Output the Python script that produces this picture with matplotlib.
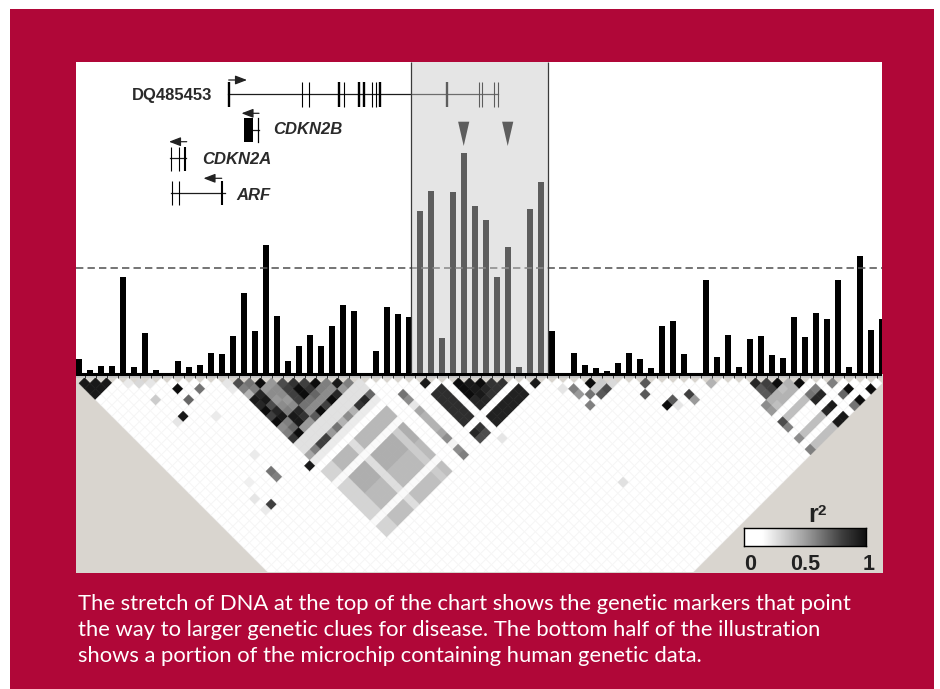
import numpy as np
import matplotlib.pyplot as plt
from matplotlib.collections import PolyCollection
from matplotlib.colors import LinearSegmentedColormap
from matplotlib.patches import Rectangle

plt.rcParams['font.family'] = ['Liberation Sans', 'DejaVu Sans']

# bar heights for the 74 markers, top panel
bar_heights = [15, 4, 8, 8, 96.5, 7, 41, 3.5, 0, 13, 7, 9, 20.5, 19.5, 38, 80.5, 43, 128.5,
               58, 13, 28, 39, 28, 48, 68.5, 63, 0, 23, 66.5, 60, 57, 163, 183, 35.5, 182,
               220.5, 168, 154, 96.5, 126.5, 7, 165, 191.5, 43, 0, 21, 9, 6, 2.5, 11, 21, 15,
               6, 47.5, 53, 19.5, 0, 94, 16.5, 39, 7, 34.5, 38, 18.5, 15.5, 57, 37, 61, 55,
               94, 7, 118, 44, 55]
threshold = 106

# r2 triangles, one list per distance between markers (first marker, values)
block_b = (14, [[.7, .55, .95, .4, .7, .8, .75, .95, .5, .9, .5],
                [.5, .5, .4, .45, .75, .95, .8, .5, .45, .4],
                [.3, .85, .45, .45, .75, .95, .6, .45, .85],
                [.9, .9, .4, .4, .75, .55, .45, .95],
                [.85, .7, .45, .45, .55, .45, .75],
                [.95, .85, .5, .85, .45, .95],
                [.75, .9, .9, .8, .65],
                [.95, .5, .9, .4],
                [.45, .6, .4],
                [.5, .95],
                [.8]])
block_g = (34, [[.95, .9, .95, .8, .8],
                [.95, .9, .85, .8],
                [.95, .9, .8],
                [.85, .85],
                [.85]])

# r2 rectangles: i_from, i_to, j_from, j_to, value
ld_blocks = [(0, 2, 1, 3, .9),
             (14, 25, 26, 27, .12), (14, 25, 29, 29, .08),
             (14, 25, 31, 32, .28), (14, 25, 34, 36, .32), (14, 25, 37, 39, .27), (14, 25, 41, 42, .25),
             (14, 15, 31, 42, .17), (19, 19, 31, 42, .13), (24, 24, 34, 42, .2),
             (14, 25, 33, 33, .02), (14, 25, 40, 40, .02),
             (31, 32, 34, 39, .82), (34, 39, 41, 42, .87),
             (61, 64, 68, 68, .25), (61, 64, 71, 71, .25), (61, 64, 73, 73, .25)]

# single r2 cells: i, j, value
ld_cells = [(8, 10, .95), (10, 12, .55), (8, 12, .6), (5, 9, .2), (6, 13, .9), (5, 13, .1),
            (4, 5, .08), (5, 6, .15), (6, 7, .1), (13, 14, .1), (13, 15, .08), (9, 16, .08),
            (9, 23, .08), (6, 25, .06), (5, 27, .1), (9, 26, .55), (9, 27, .5), (6, 29, .75), (5, 29, .08),
            (13, 29, .9), (14, 28, .35), (15, 28, .5), (16, 28, .75), (17, 28, .75), (18, 28, .4),
            (19, 28, .55), (20, 28, .3), (21, 28, .45), (22, 28, .3), (23, 28, .8), (24, 28, .85), (25, 28, .6),
            (28, 31, .55), (28, 32, .45), (28, 33, .1), (28, 34, .35), (28, 35, .3), (28, 36, .3), (28, 37, .3),
            (28, 38, .35), (28, 39, .45), (28, 40, .05), (28, 41, .45), (28, 42, .5),
            (31, 32, .9), (41, 42, .9), (32, 41, .8), (31, 41, .85), (32, 42, .7), (31, 42, .7), (33, 44, .1),
            (46, 47, .95), (44, 46, .5), (44, 47, .4), (45, 48, .55), (44, 49, .5), (46, 49, .65), (47, 49, .7),
            (46, 48, .2), (47, 48, .2), (48, 49, .15), (43, 45, .1), (51, 52, .65), (50, 53, .65),
            (54, 57, .75), (54, 58, .4), (51, 56, .95), (52, 56, .65), (52, 57, .1), (57, 58, .3),
            (61, 62, .85), (62, 63, .75), (63, 64, .95), (65, 66, .95), (61, 63, .65), (62, 64, .75), (61, 64, .65),
            (63, 65, .25), (64, 65, .3), (62, 65, .3), (63, 66, .3), (62, 66, .3), (61, 65, .3), (61, 66, .25),
            (64, 66, .3), (60, 65, .45), (60, 66, .4), (60, 68, .7), (60, 69, .5), (66, 68, .5), (65, 68, .55),
            (66, 69, .85), (65, 69, .85), (68, 69, .5), (68, 71, .6), (69, 71, .95), (71, 73, .95), (69, 73, .95),
            (68, 73, .55), (66, 71, .9), (65, 71, .85), (60, 71, .45), (66, 73, .9), (65, 73, .9), (60, 73, .5),
            (40, 59, .12)]

# gene models, in picture coordinates of the overlay axes
main_exons = [228.7, 301.7, 309.3, 339.3, 344, 359.3, 364.3, 371.7, 376, 380, 446.7, 478.7, 482, 494, 497.7]
main_thick = [228.7, 339.3, 359.3, 364.3, 380, 446.7]
cdkn2a_exons = [170.7, 178.5, 185]
arf_exons = [171.7, 179, 222]
arrow_marks = [463.7, 507.7]
caption = ['The stretch of DNA at the top of the chart shows the genetic markers that point',
           'the way to larger genetic clues for disease. The bottom half of the illustration',
           'shows a portion of the microchip containing human genetic data.']

n = len(bar_heights)
r2 = np.zeros((n, n))
for i0, i1, j0, j1, v in ld_blocks:
    for i in range(i0, i1 + 1):
        for j in range(j0, j1 + 1):
            if i < j:
                r2[i, j] = v
for first, rows in (block_b, block_g):
    for d, row in enumerate(rows, start=1):
        for k, v in enumerate(row):
            r2[first + k, first + k + d] = v
for i, j, v in ld_cells:
    r2[i, j] = v

fig = plt.figure(figsize=(9.4, 6.89), dpi=100, facecolor='white')
fig.patches.append(Rectangle((10 / 940, 0), 924 / 940, 680 / 689, transform=fig.transFigure,
                             facecolor='#b00738', edgecolor='none', zorder=-1))

# main panel: x in marker number, y is 1 unit per pixel from the baseline
ax = fig.add_axes([76 / 940, 1 - 572 / 689, 806 / 940, 510 / 689])
ax.set_xlim(-3 / 11, 73)
ax.set_ylim(-198.5, 311.5)
ax.axis('off')
ax.add_patch(Rectangle((0, 0), 1, 1, transform=ax.transAxes, facecolor='white', zorder=0))
ax.bar(range(n), bar_heights, width=0.56, color='black', zorder=3)
ax.axhline(threshold, color='#555555', lw=1.15, dashes=(4.6, 2.6), zorder=4)

# LD triangle, drawn as diamonds under the bars
polys, vals = [], []
for i in range(n):
    for j in range(i + 1, n):
        d = j - i
        cx = (i + j) / 2
        cy = -(4.3 + 5.5 * d)
        if cy < -206:
            continue
        polys.append([(cx - .5, cy), (cx, cy + 5.5), (cx + .5, cy), (cx, cy - 5.5)])
        vals.append(r2[i, j])
vals = np.array(vals)
faces = plt.cm.gray_r(vals)
edges = faces.copy()
edges[vals < .05] = (.965, .965, .965, 1)
ax.fill_between([-1, 74], -199, 0, color='#d9d5cf', lw=0, zorder=1)
ax.add_collection(PolyCollection(polys, facecolors=faces, edgecolors=edges, linewidths=0.35, zorder=2))
ax.axhspan(-4.5, -2, color='#c8c8c8', lw=0, zorder=3)
ax.axhline(-0.5, color='black', lw=2.2, zorder=5)
ax.vlines(np.arange(n) + .5, -4.5, -1, color='#333333', lw=0.7, zorder=4)

# overlay in picture coordinates for the gene track and text
top = fig.add_axes([0, 0, 1, 1], zorder=5)
top.set_xlim(0, 940)
top.set_ylim(689, 0)
top.axis('off')
top.patch.set_alpha(0)

dark = '#1c1c1c'
top.plot([228, 498], [94.3, 94.3], color=dark, lw=0.9)
for x in main_exons:
    top.plot([x, x], [82.3, 106.7], color='black', lw=1.7 if x in main_thick else 0.8, solid_capstyle='butt')
top.plot([258.5, 253], [130, 130], color=dark, lw=0.9)
top.add_patch(Rectangle((244, 117.7), 9.3, 24.6, color='black', lw=0))
top.plot([258.3, 258.3], [117.7, 142.3], color='black', lw=0.9)
top.plot([170, 186], [158.3, 158.3], color=dark, lw=0.9)
for x in cdkn2a_exons:
    top.plot([x, x], [146.7, 171], color='black', lw=1.5 if x == 185 else 0.8, solid_capstyle='butt')
top.plot([171, 225], [192.7, 192.7], color=dark, lw=0.9)
for x in arf_exons:
    top.plot([x, x], [181, 205], color='black', lw=1.5 if x == 222 else 0.8, solid_capstyle='butt')
for x0, x1, y in [(228.7, 247, 80), (259, 241.5, 113.3), (186.7, 169, 141.7), (221.7, 203.5, 178.3)]:
    top.annotate('', xy=(x1, y), xytext=(x0, y),
                 arrowprops=dict(arrowstyle='-|>,head_width=0.27,head_length=0.7', color='#222222',
                                 lw=0.9, shrinkA=0, shrinkB=0))
for x in arrow_marks:
    top.fill([x - 5.6, x + 5.6, x], [121.7, 121.7, 146], color='black', lw=0)

top.text(132, 95.5, 'DQ485453', fontsize=12, fontweight='bold', color='#2a2a2a', va='center')
top.text(273, 130, 'CDKN2B', fontsize=12, fontweight='bold', style='italic', color='#2a2a2a', va='center')
top.text(202, 160, 'CDKN2A', fontsize=12, fontweight='bold', style='italic', color='#2a2a2a', va='center')
top.text(236, 195.5, 'ARF', fontsize=12, fontweight='bold', style='italic', color='#2a2a2a', va='center')

# see-through gray box over the middle markers
top.add_patch(Rectangle((411, 62), 137.3, 310.5, facecolor='#c9c9c9', alpha=0.467, lw=0, zorder=6))
top.vlines([411, 548.3], 62, 372.5, color='#3a3a3a', lw=0.9, zorder=7)

# r2 key
key = fig.add_axes([743.5 / 940, 1 - 546 / 689, 122 / 940, 18.3 / 689], zorder=6)
key_cmap = LinearSegmentedColormap.from_list('key', [(0, 'white'), (.15, 'white'), (.5, '#a0a0a0'),
                                                     (.8, '#404040'), (1, '#111111')])
key.imshow(np.linspace(0, 1, 200)[None, :], aspect='auto', cmap=key_cmap, extent=(0, 1, 0, 1))
key.set_xticks([])
key.set_yticks([])
for s in key.spines.values():
    s.set_linewidth(1.0)

top.text(808, 522, 'r', fontsize=18, fontweight='bold', color='#222222', va='baseline')
top.text(818, 515, '2', fontsize=11, fontweight='bold', color='#222222', va='baseline')
for x, lab in zip([750, 805, 869], ['0', '0.5', '1']):
    top.text(x, 570, lab, fontsize=15.5, fontweight='bold', color='#222222', ha='center', va='baseline')

for y, line in zip([610, 636.5, 662.5], caption):
    top.text(78, y, line, fontsize=15.85, color='white', family=['Lato', 'DejaVu Sans'], va='baseline')

plt.savefig('out.png', dpi=100)
